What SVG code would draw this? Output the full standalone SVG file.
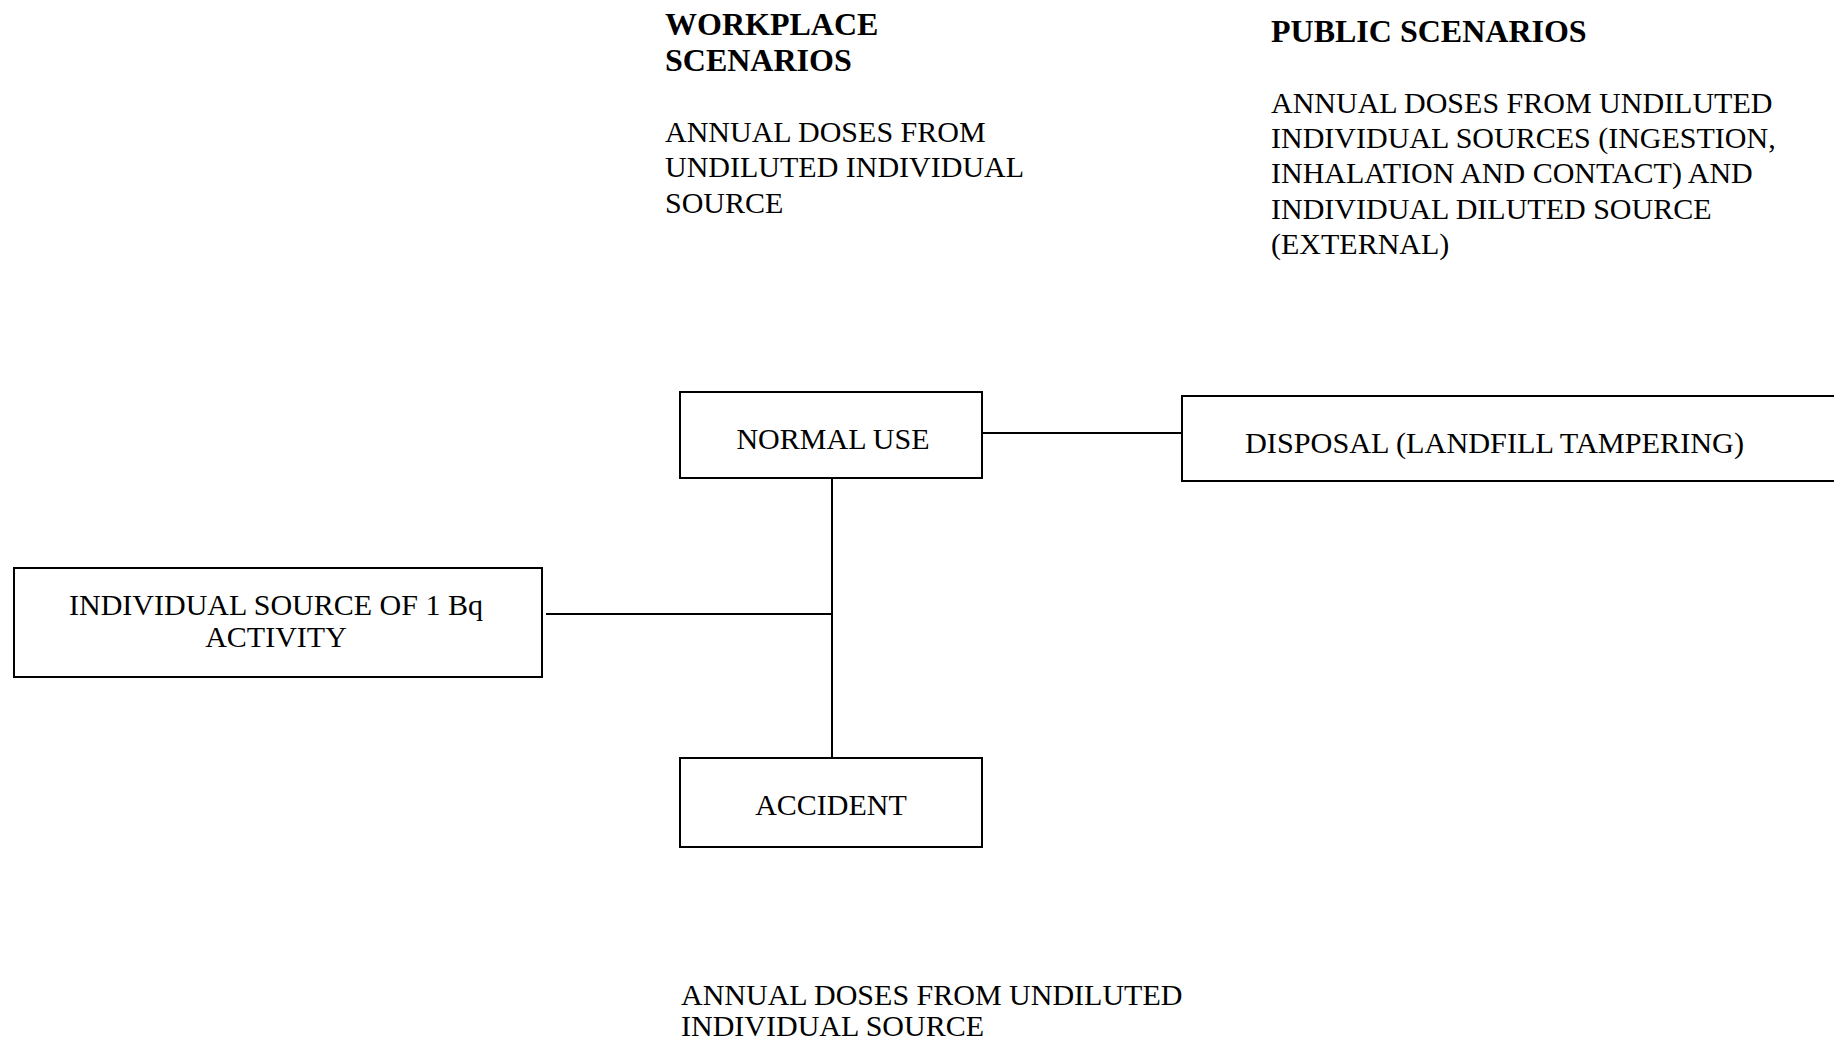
<svg xmlns="http://www.w3.org/2000/svg" width="1834" height="1039" viewBox="0 0 1834 1039">
<style>
text{font-family:"Liberation Serif","Times New Roman",serif;font-size:30px;fill:#000}
.b{font-weight:bold;font-size:32px}
.m{text-anchor:middle}
.box{fill:#fff;stroke:#000;stroke-width:2}
.con{stroke:#000;stroke-width:2;fill:none}
</style>
<rect width="1834" height="1039" fill="#fff"/>
<g id="connectors">
<line class="con" x1="982" y1="433" x2="1182" y2="433"/>
<line class="con" x1="832" y1="478" x2="832" y2="758"/>
<line class="con" x1="546" y1="614" x2="832" y2="614"/>
</g>
<g id="workplace-label">
<text class="b" x="665" y="35">WORKPLACE</text>
<text class="b" x="665" y="71">SCENARIOS</text>
<text x="665" y="142">ANNUAL DOSES FROM</text>
<text x="665" y="177">UNDILUTED INDIVIDUAL</text>
<text x="665" y="213">SOURCE</text>
</g>
<g id="public-label">
<text class="b" x="1271" y="42">PUBLIC SCENARIOS</text>
<text x="1271" y="113">ANNUAL DOSES FROM UNDILUTED</text>
<text x="1271" y="148">INDIVIDUAL SOURCES (INGESTION,</text>
<text x="1271" y="183">INHALATION AND CONTACT) AND</text>
<text x="1271" y="219">INDIVIDUAL DILUTED SOURCE</text>
<text x="1271" y="254">(EXTERNAL)</text>
</g>
<g id="normal-use">
<rect class="box" x="680" y="392" width="302" height="86"/>
<text class="m" x="833" y="449">NORMAL USE</text>
</g>
<g id="disposal">
<rect class="box" x="1182" y="396" width="700" height="85"/>
<text x="1245" y="453" textLength="499" lengthAdjust="spacingAndGlyphs">DISPOSAL (LANDFILL TAMPERING)</text>
</g>
<g id="individual-source">
<rect class="box" x="14" y="568" width="528" height="109"/>
<text class="m" x="276" y="615">INDIVIDUAL SOURCE OF 1 Bq</text>
<text class="m" x="276" y="647">ACTIVITY</text>
</g>
<g id="accident">
<rect class="box" x="680" y="758" width="302" height="89"/>
<text class="m" x="831" y="815">ACCIDENT</text>
</g>
<g id="accident-label">
<text x="681" y="1005">ANNUAL DOSES FROM UNDILUTED</text>
<text x="681" y="1036">INDIVIDUAL SOURCE</text>
</g>
</svg>
